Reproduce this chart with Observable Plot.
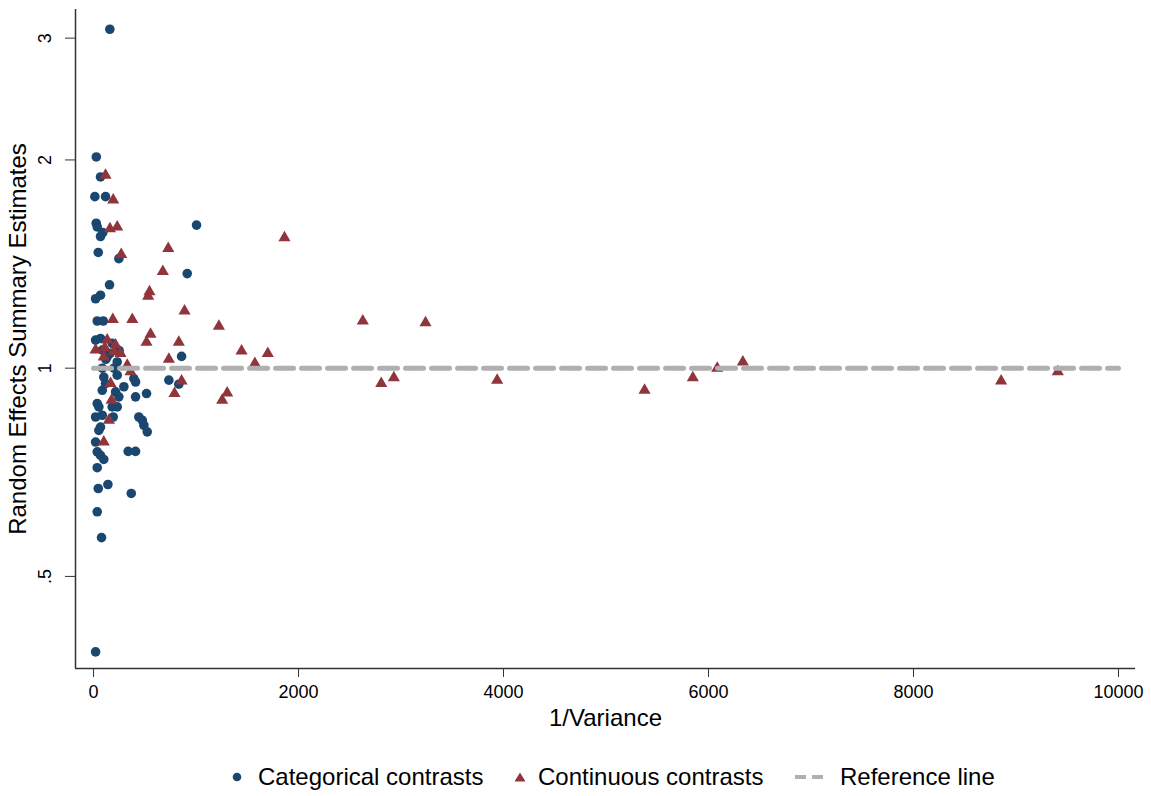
<!DOCTYPE html>
<html>
<head>
<meta charset="utf-8">
<script src="https://cdn.jsdelivr.net/npm/d3@7"></script>
<script src="https://cdn.jsdelivr.net/npm/@observablehq/plot@0.6"></script>
<style>
  body { margin: 0; background: #fff; font-family: "Liberation Sans", Arial, sans-serif; }
  #chart svg { display: block; }
  #legend { position: relative; width: 1151px; height: 56px; font-size: 24px; color: #000; }
  #legend .lab { position: absolute; top: 25px; line-height: 24px; white-space: nowrap; }
  #legend svg.icon { position: absolute; }
</style>
</head>
<body>
<div id="chart"></div>
<div id="legend"></div>
<script>
// Categorical contrasts (circles): 1/Variance and estimate
const categoricalX = [159, 27, 68, 13, 117, 26, 36, 68, 90, 1005, 46, 247, 914, 156, 20, 68, 36, 95,
  20, 68, 182, 85, 133, 160, 120, 250, 231, 859, 85, 198, 231, 393, 100, 117, 296, 85, 215, 735, 832, 410,
  247, 410, 517, 36, 52, 182, 231, 20, 85, 192, 442, 475, 491, 524, 68, 52, 20, 36, 68, 100, 338, 410,
  36, 46, 140, 368, 36, 78, 20];
const categoricalY = [3.09, 2.02, 1.89, 1.77, 1.77, 1.62, 1.60, 1.55, 1.57, 1.61, 1.47, 1.44, 1.37, 1.32, 1.26, 1.275, 1.17, 1.17,
  1.098, 1.104, 1.086, 1.062, 1.038, 1.05, 1.03, 1.06, 1.021, 1.04, 1.0, 1.0, 0.977, 0.966, 0.971, 0.95, 0.94, 0.929, 0.924, 0.961, 0.948, 0.955,
  0.909, 0.909, 0.919, 0.889, 0.879, 0.879, 0.879, 0.850, 0.855, 0.850, 0.850, 0.841, 0.827, 0.809, 0.822, 0.813, 0.782, 0.757, 0.748, 0.738, 0.758, 0.758,
  0.718, 0.67, 0.679, 0.659, 0.62, 0.569, 0.389];

// Continuous contrasts (triangles)
const continuousX = [117, 192, 160, 231, 729, 270, 1863, 676, 546, 533, 888, 188, 378, 1223, 556, 517, 832,
  133, 215, 20, 110, 198, 263, 100, 735, 1444, 1700, 1574, 329, 361, 166, 859, 790, 1304, 1255, 176, 150, 100,
  2627, 3239, 2807, 2930, 3938, 5376, 5847, 6085, 6335, 8855, 9408];
const continuousY = [1.90, 1.75, 1.59, 1.60, 1.49, 1.46, 1.544, 1.38, 1.29, 1.27, 1.21, 1.176, 1.176, 1.15, 1.12, 1.09, 1.09,
  1.098, 1.08, 1.062, 1.07, 1.056, 1.05, 1.038, 1.03, 1.059, 1.05, 1.016, 1.01, 0.988, 0.95, 0.958, 0.919, 0.921, 0.899, 0.899, 0.841, 0.782,
  1.17, 1.163, 0.95, 0.969, 0.961, 0.929, 0.969, 1.0, 1.021, 0.958, 0.988];

// Reference line
const refLineX = [0, 10000];
const refLineY = [1, 1];

// Axes
const xTicks = [0, 2000, 4000, 6000, 8000, 10000];
const xTickLabels = ["0", "2000", "4000", "6000", "8000", "10000"];
const yTicks = [0.5, 1, 2, 3];
const yTickLabels = [".5", "1", "2", "3"];
const xTitle = "1/Variance";
const yTitle = "Random Effects Summary Estimates";
const legendLabels = ["Categorical contrasts", "Continuous contrasts", "Reference line"];

const navy = "#1a476f", maroon = "#90353b", refGray = "#b0b0b0";

const cat = categoricalX.map((x, i) => ({x, y: categoricalY[i]}));
const cont = continuousX.map((x, i) => ({x, y: continuousY[i]}));
const ref = refLineX.map((x, i) => ({x, y: refLineY[i]}));

const chart = Plot.plot({
  width: 1151,
  height: 740,
  marginLeft: 75,
  marginRight: 16,
  marginTop: 9,
  marginBottom: 72,
  style: {fontFamily: "'Liberation Sans', Arial, sans-serif", fontSize: "18px", color: "#000", background: "#fff"},
  x: {domain: [-176, 10166]},
  y: {type: "log", domain: [0.368, 3.30]},
  marks: [
    Plot.axisX({ticks: xTicks, tickSize: 9, tickPadding: 8, label: null, fontSize: 18,
      tickFormat: d => xTickLabels[xTicks.indexOf(d)], stroke: "#333"}),
    Plot.axisY({ticks: yTicks, tickSize: 10, tickPadding: 15, tickRotate: -90, label: null, fontSize: 18,
      tickFormat: d => yTickLabels[yTicks.indexOf(d)], stroke: "#333"}),
    Plot.ruleX([-176], {stroke: "#333", strokeWidth: 1.5}),
    Plot.ruleY([0.368], {stroke: "#333", strokeWidth: 1.5}),
    Plot.dot(cat, {x: "x", y: "y", r: 4.8, fill: navy}),
    Plot.dot(cont, {x: "x", y: "y", r: 4.5, symbol: "triangle", fill: maroon}),
    Plot.line(ref, {x: "x", y: "y", stroke: refGray, strokeWidth: 5, strokeDasharray: "18,8"}),
    Plot.text([yTitle], {text: d => d, frameAnchor: "left", dx: -57, rotate: -90, fontSize: 24,
      textAnchor: "middle", lineAnchor: "middle", fill: "#000"}),
    Plot.text([xTitle], {text: d => d, frameAnchor: "bottom", dy: 50, fontSize: 24,
      textAnchor: "middle", lineAnchor: "middle", fill: "#000"})
  ]
});
document.getElementById("chart").appendChild(chart);

// Legend
const legend = document.getElementById("legend");
const ns = "http://www.w3.org/2000/svg";
function icon(left, w, h, draw) {
  const s = document.createElementNS(ns, "svg");
  s.setAttribute("class", "icon");
  s.setAttribute("width", w); s.setAttribute("height", h);
  s.style.left = left + "px"; s.style.top = (37 - h / 2) + "px";
  s.innerHTML = draw;
  legend.appendChild(s);
}
function label(left, text) {
  const d = document.createElement("div");
  d.className = "lab"; d.style.left = left + "px"; d.textContent = text;
  legend.appendChild(d);
}
icon(232, 10, 10, `<circle cx="5" cy="5" r="4.3" fill="${navy}"/>`);
label(258, legendLabels[0]);
icon(514, 12, 12, `<path d="M6,1.5 L11.5,10.5 L0.5,10.5 Z" fill="${maroon}"/>`);
label(538, legendLabels[1]);
icon(795, 28, 6, `<line x1="0" y1="3" x2="28" y2="3" stroke="${refGray}" stroke-width="4" stroke-dasharray="11,6"/>`);
label(840, legendLabels[2]);
</script>
</body>
</html>
